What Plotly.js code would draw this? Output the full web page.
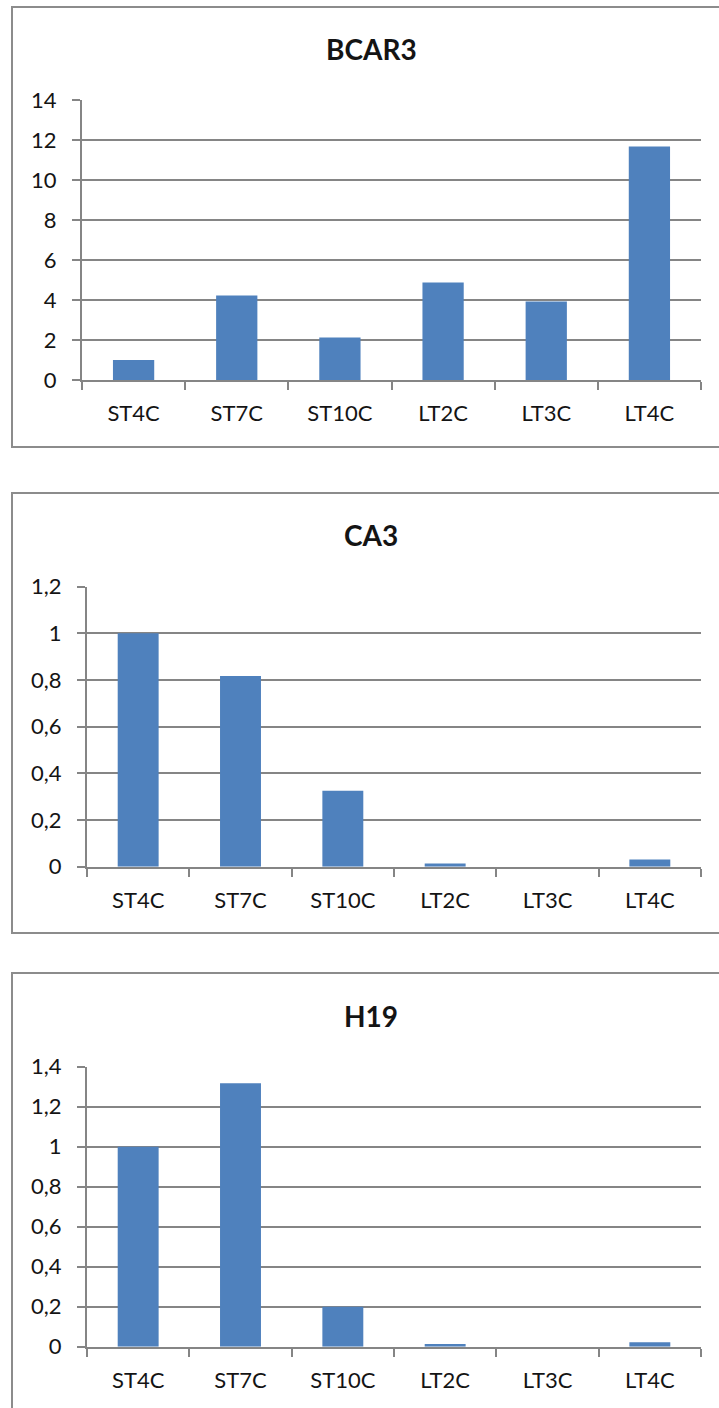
<!DOCTYPE html>
<html>
<head>
<meta charset="utf-8">
<script src="https://cdn.plot.ly/plotly-3.0.1.min.js"></script>
<style>
  html, body { margin: 0; padding: 0; background: #fff; }
  #chart { width: 719px; height: 1408px; }
</style>
</head>
<body>
<div id="chart"></div>
<script>
// ---- data ----
const categories = ["ST4C", "ST7C", "ST10C", "LT2C", "LT3C", "LT4C"];
const bcar3Values = [1.0, 4.22, 2.13, 4.87, 3.92, 11.67];
const ca3Values = [1.0, 0.817, 0.326, 0.014, 0, 0.031];
const h19Values = [1.0, 1.317, 0.2, 0.013, 0, 0.022];
const panelTitles = ["BCAR3", "CA3", "H19"];
const bcar3TickVals = [0, 2, 4, 6, 8, 10, 12, 14];
const bcar3TickText = ["0", "2", "4", "6", "8", "10", "12", "14"];
const ca3TickVals = [0, 0.2, 0.4, 0.6, 0.8, 1, 1.2];
const ca3TickText = ["0", "0,2", "0,4", "0,6", "0,8", "1", "1,2"];
const h19TickVals = [0, 0.2, 0.4, 0.6, 0.8, 1, 1.2, 1.4];
const h19TickText = ["0", "0,2", "0,4", "0,6", "0,8", "1", "1,2", "1,4"];

// ---- layout helpers (pixel geometry) ----
const W = 719, H = 1408;
const px = v => v / W;
const py = v => 1 - v / H;

const BAR = "#4F81BD";
const GRID = "#858585";
const FONT = "Lato, 'Open Sans', sans-serif";
const TXT = "#141414";

const panels = [
  { vals: bcar3Values, tv: bcar3TickVals, tt: bcar3TickText, range: [0, 14],
    plotL: 82, plotR: 701, plotT: 100, plotB: 380, boxT: 7, boxB: 447, titleY: 49 },
  { vals: ca3Values, tv: ca3TickVals, tt: ca3TickText, range: [0, 1.2],
    plotL: 87, plotR: 701, plotT: 586.7, plotB: 866.7, boxT: 493, boxB: 933, titleY: 535 },
  { vals: h19Values, tv: h19TickVals, tt: h19TickText, range: [0, 1.4],
    plotL: 87, plotR: 701, plotT: 1066.7, plotB: 1346.7, boxT: 973, boxB: 1413, titleY: 1016 }
];

const data = [];
const layout = {
  width: W, height: H,
  margin: { l: 0, r: 0, t: 0, b: 0, pad: 0 },
  paper_bgcolor: "#ffffff",
  plot_bgcolor: "#ffffff",
  showlegend: false,
  bargap: 0.6,
  separators: ", ",
  font: { family: FONT, color: TXT, size: 22 },
  shapes: [],
  annotations: []
};

panels.forEach((p, i) => {
  const n = i === 0 ? "" : String(i + 1);
  data.push({
    type: "bar",
    x: categories,
    y: p.vals,
    xaxis: "x" + n,
    yaxis: "y" + n,
    marker: { color: BAR, line: { width: 0 } },
    hoverinfo: "x+y"
  });
  layout["xaxis" + n] = {
    domain: [px(p.plotL), px(p.plotR)],
    anchor: "y" + n,
    type: "category",
    showgrid: false,
    showline: true,
    linecolor: GRID,
    linewidth: 2,
    ticks: "outside",
    tickson: "boundaries",
    ticklen: 8,
    tickwidth: 2,
    tickcolor: GRID,
    ticklabelstandoff: 13,
    tickfont: { family: FONT, size: 22, color: TXT },
    zeroline: false,
    fixedrange: true
  };
  layout["yaxis" + n] = {
    domain: [py(p.plotB), py(p.plotT)],
    anchor: "x" + n,
    range: p.range,
    tickmode: "array",
    tickvals: p.tv,
    ticktext: p.tt,
    showgrid: true,
    gridcolor: GRID,
    gridwidth: 2,
    showline: true,
    linecolor: GRID,
    linewidth: 2,
    ticks: "outside",
    ticklen: 8,
    tickwidth: 2,
    tickcolor: GRID,
    ticklabelstandoff: 11,
    tickfont: { family: FONT, size: 22, color: TXT },
    zeroline: false,
    fixedrange: true
  };
  layout.shapes.push({
    type: "rect", xref: "paper", yref: "paper",
    x0: px(12), x1: px(731), y0: py(p.boxB), y1: py(p.boxT),
    line: { color: "#8c8c8c", width: 2 },
    fillcolor: "rgba(0,0,0,0)",
    layer: "below"
  });
  layout.annotations.push({
    xref: "paper", yref: "paper",
    x: px(371), y: py(p.titleY),
    xanchor: "center", yanchor: "middle",
    text: "<b>" + panelTitles[i] + "</b>",
    showarrow: false,
    font: { family: FONT, size: 28, color: TXT }
  });
});

Plotly.newPlot("chart", data, layout, { staticPlot: true, displayModeBar: false });
</script>
</body>
</html>
